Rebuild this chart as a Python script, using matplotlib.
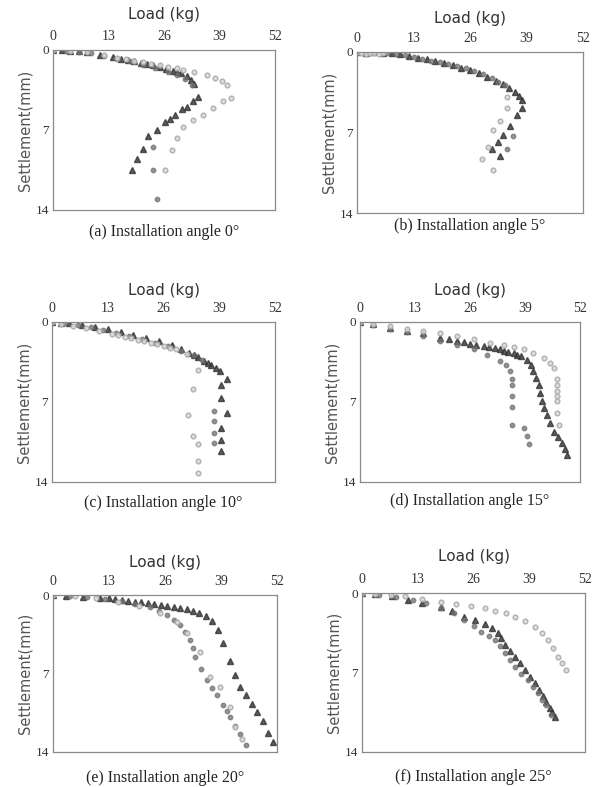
import matplotlib
matplotlib.use("Agg")
import matplotlib.pyplot as plt

W, H = 605, 787

### panel (a) 0 deg
load_a1 = [0, 2, 4, 6, 8, 11, 14, 16, 17.5, 19, 20.5, 22, 23.5, 25, 26.5, 28, 29, 30, 31.3, 32.3, 33, 34, 32.9, 31.3, 30.1, 28.6, 27.4, 26.2, 24.3, 22.3, 21, 19.7, 18.4]
set_a1 = [0, 0.02, 0.05, 0.1, 0.2, 0.4, 0.6, 0.8, 0.9, 1.0, 1.1, 1.2, 1.35, 1.5, 1.65, 1.8, 1.95, 2.05, 2.3, 2.6, 3.0, 4.1, 4.5, 5.0, 5.2, 5.7, 6.0, 6.3, 7.0, 7.5, 8.7, 9.5, 10.5]
load_a2 = [0, 3, 6, 9, 12, 15, 18, 21, 24, 27, 29, 31, 32.5, 23.5, 23.5, 24.3]
set_a2 = [0, 0.05, 0.15, 0.3, 0.5, 0.75, 1.0, 1.3, 1.55, 1.9, 2.2, 2.5, 3.1, 8.5, 10.5, 13.0]
load_a3 = [0, 4, 8, 12, 15, 17, 19, 21, 23, 25, 27, 29, 30.5, 33, 36, 38, 39.5, 40.7, 41.8, 39.9, 37.5, 35.2, 32.9, 30.5, 29, 27.8, 26.2]
set_a3 = [0, 0.05, 0.2, 0.45, 0.7, 0.82, 0.95, 1.08, 1.2, 1.32, 1.45, 1.6, 1.75, 1.95, 2.2, 2.45, 2.7, 3.1, 4.2, 4.5, 5.1, 5.7, 6.1, 6.7, 7.7, 8.75, 10.5]

### panel (b) 5 deg
load_b1 = [0, 2, 4, 6, 8, 10, 12, 14, 16, 18, 20, 22, 24, 26, 28, 30, 32, 33.5, 35, 36.3, 37.3, 37.9, 37.9, 36.7, 35.2, 33.6, 32.5, 31, 32.9]
set_b1 = [0, 0.05, 0.0, 0.05, 0.1, 0.2, 0.35, 0.5, 0.65, 0.8, 0.95, 1.15, 1.35, 1.6, 1.85, 2.15, 2.5, 2.8, 3.15, 3.5, 3.85, 4.2, 4.9, 5.5, 6.4, 7.2, 7.8, 8.4, 9.0]
load_b2 = [0, 3, 7, 9, 11, 13, 15, 17, 19, 21, 23, 25, 27, 29, 31, 32.5, 34, 35.9, 34.4]
set_b2 = [0, 0.05, 0.1, 0.2, 0.3, 0.45, 0.6, 0.75, 0.9, 1.05, 1.2, 1.4, 1.65, 1.95, 2.3, 2.6, 2.9, 7.3, 8.4]
load_b3 = [0, 1, 2, 3, 4, 5, 6, 34.4, 34.4, 32.9, 31.3, 30.2, 28.7, 31.3]
set_b3 = [0, 0.1, 0.2, 0.1, 0.05, 0.15, 0.1, 3.9, 4.9, 6.0, 6.8, 8.3, 9.3, 10.3]

### panel (c) 10 deg
load_c1 = [0, 2, 4, 7, 10, 13, 16, 19, 22, 25, 28, 30, 32, 33, 34, 35.5, 36.3, 37, 38.2, 39.2, 40.7, 39.5, 39.5, 40.7, 39.5, 39.5, 39.5]
set_c1 = [0, 0.05, 0.12, 0.25, 0.45, 0.65, 0.85, 1.1, 1.4, 1.7, 2.05, 2.35, 2.7, 2.9, 3.1, 3.4, 3.6, 3.8, 4.0, 4.3, 5.0, 5.5, 6.65, 8.0, 9.3, 10.3, 11.3]
load_c2 = [0, 3, 6, 9, 12, 15, 18, 21, 24, 27, 30, 33, 35, 37.8, 37.8, 37.8, 37.8]
set_c2 = [0, 0.1, 0.25, 0.45, 0.7, 0.95, 1.2, 1.5, 1.8, 2.1, 2.5, 2.9, 3.3, 7.8, 8.7, 9.7, 10.6]
load_c3 = [0, 2, 5, 8, 11, 14, 15.5, 17, 18.5, 20, 21.5, 23, 24.5, 26, 27.5, 29, 31.5, 34.1, 32.9, 31.7, 32.9, 34.1, 34.1, 34.1]
set_c3 = [0, 0.15, 0.35, 0.55, 0.8, 1.05, 1.17, 1.3, 1.42, 1.55, 1.68, 1.8, 1.95, 2.1, 2.25, 2.4, 2.8, 4.2, 5.9, 8.1, 9.95, 10.7, 12.2, 13.2]

### panel (d) 15 deg
load_d1 = [0, 3, 7, 11, 15, 19, 21, 23, 24.5, 26, 27.5, 29.2, 30.5, 32, 33, 34, 35, 36.3, 37.2, 38, 39.5, 40.5, 41, 41.6, 42.2, 42.6, 43, 43.6, 44.2, 45, 45.8, 46.8, 47.8, 48.4, 49]
set_d1 = [0, 0.2, 0.5, 0.75, 1.0, 1.4, 1.52, 1.65, 1.78, 1.9, 2.0, 2.1, 2.2, 2.3, 2.4, 2.5, 2.6, 2.7, 2.85, 3.0, 3.3, 3.8, 4.3, 4.9, 5.5, 6.2, 6.9, 7.5, 8.1, 8.8, 9.6, 10.1, 10.6, 11.1, 11.6]
load_d2 = [0, 3, 7, 11, 15, 19, 23, 26.9, 30, 33.2, 34.5, 35.5, 35.9, 35.9, 35.9, 35.9, 35.9, 38.7, 39.5, 39.9]
set_d2 = [0, 0.25, 0.6, 0.9, 1.2, 1.7, 2.05, 2.4, 2.9, 3.4, 3.8, 4.3, 5.0, 5.5, 6.5, 7.4, 9.0, 9.3, 10.0, 10.7]
load_d3 = [0, 3, 7, 11, 15, 19, 23, 27, 30.8, 34, 36.5, 38.7, 41, 43.4, 45, 45.8, 46.6, 46.6, 46.6, 46.6, 46.6, 46.6, 47]
set_d3 = [0, 0.15, 0.38, 0.6, 0.8, 0.96, 1.2, 1.5, 1.84, 2.05, 2.2, 2.4, 2.75, 3.15, 3.6, 4.0, 5.0, 5.5, 6.0, 6.5, 6.9, 8.0, 9.0]

### panel (e) 20 deg
load_e1 = [0, 3, 7, 11, 13, 14.5, 16, 17.5, 19, 20.5, 22, 23.5, 25, 26.5, 28, 29.5, 31, 32.5, 34, 35.5, 37, 38.4, 39.5, 41.1, 42.2, 43.4, 44.9, 46.1, 47.3, 48.8, 50, 51]
set_e1 = [0, 0.05, 0.15, 0.25, 0.3, 0.35, 0.42, 0.5, 0.58, 0.65, 0.72, 0.8, 0.88, 0.95, 1.05, 1.15, 1.25, 1.4, 1.6, 1.85, 2.3, 3.1, 4.3, 5.9, 7.1, 8.2, 8.9, 9.7, 10.4, 11.2, 12.3, 13.1]
load_e2 = [0, 4, 8, 12, 16, 19, 22.5, 24.5, 26.4, 28, 29.5, 30.7, 31.8, 32.4, 32.9, 34.3, 35.7, 36.9, 38, 39.5, 40.3, 41.1, 42.2, 43.4, 44.8]
set_e2 = [0, 0.1, 0.2, 0.35, 0.55, 0.8, 1.1, 1.45, 1.8, 2.2, 2.7, 3.3, 4.0, 4.7, 5.5, 6.6, 7.6, 8.3, 8.9, 9.8, 10.3, 10.9, 11.7, 12.4, 13.4]
load_e3 = [0, 5, 10, 15, 20, 24.8, 28.7, 31, 34.1, 36.4, 38.7, 41.1, 42.2, 43.8]
set_e3 = [0, 0.1, 0.3, 0.6, 1.0, 1.6, 2.4, 3.4, 5.1, 7.3, 8.2, 10.0, 11.8, 12.8]

### panel (f) 25 deg
load_f1 = [0, 3, 7, 10.7, 14, 18.5, 21, 23.9, 26.4, 28.6, 30.3, 31.7, 32.5, 33.3, 34.5, 35.6, 36.8, 37.9, 39.1, 40.3, 41.2, 42.2, 43, 43.8, 44.4, 44.9]
set_f1 = [0, 0.1, 0.3, 0.6, 0.85, 1.2, 1.6, 2.1, 2.4, 2.7, 3.1, 3.5, 4.0, 4.6, 5.1, 5.6, 6.2, 6.8, 7.4, 7.95, 8.5, 9.1, 9.6, 10.1, 10.5, 10.9]
load_f2 = [0, 4, 8, 12, 15, 18.5, 21.5, 23.9, 26, 27.8, 29.5, 31, 32.2, 33.3, 34.5, 35.6, 37.1, 38.7, 39.8, 41, 42, 43, 44.1]
set_f2 = [0, 0.15, 0.35, 0.6, 0.9, 1.3, 1.8, 2.4, 2.9, 3.4, 3.75, 4.1, 4.7, 5.3, 5.9, 6.5, 7.1, 7.7, 8.3, 8.8, 9.4, 9.9, 10.7]
load_f3 = [0, 3, 6.8, 10, 14, 18.5, 22, 25.5, 28.6, 31, 33.5, 35.6, 38, 40.3, 42, 43.4, 44.6, 45.7, 46.7, 47.6]
set_f3 = [0, 0.08, 0.18, 0.3, 0.5, 0.76, 0.95, 1.15, 1.35, 1.55, 1.8, 2.1, 2.5, 3.0, 3.5, 4.1, 4.8, 5.6, 6.2, 6.8]

captions = ["(a) Installation angle 0°", "(b) Installation angle 5°",
            "(c) Installation angle 10°", "(d) Installation angle 15°",
            "(e) Installation angle 20°", "(f) Installation angle 25°"]
x_ticks = [0, 13, 26, 39, 52]
y_ticks = [0, 7, 14]

panels = [
    ((load_a1, set_a1), (load_a2, set_a2), (load_a3, set_a3)),
    ((load_b1, set_b1), (load_b2, set_b2), (load_b3, set_b3)),
    ((load_c1, set_c1), (load_c2, set_c2), (load_c3, set_c3)),
    ((load_d1, set_d1), (load_d2, set_d2), (load_d3, set_d3)),
    ((load_e1, set_e1), (load_e2, set_e2), (load_e3, set_e3)),
    ((load_f1, set_f1), (load_f2, set_f2), (load_f3, set_f3)),
]

# axes boxes in pixels: left, top, right, bottom ; caption y ; title y
boxes = [
    (53, 50, 275, 210, 232, 15),
    (357, 52, 583, 213, 226, 18),
    (52, 322, 275, 482, 503, 290),
    (360, 322, 580, 482, 501, 290),
    (53, 595, 277, 752, 778, 562),
    (362, 593, 585, 752, 777, 557),
]

styles = [
    dict(marker="^", color="#333333", ms=3.8, alpha=0.8),
    dict(marker="o", color="#707070", ms=3.2, alpha=0.75),
    dict(marker="o", markerfacecolor="#dadada", markeredgecolor="#ababab", ms=3.4, alpha=0.9),
]

serif = "Liberation Serif"
sans = "DejaVu Sans"

fig = plt.figure(figsize=(W / 100, H / 100), dpi=100)

for (series, box, cap) in zip(panels, boxes, captions):
    l, t, r, b, cy, ty = box
    ax = fig.add_axes([l / W, 1 - b / H, (r - l) / W, (b - t) / H])
    for (x, y), st in zip(series, styles):
        ax.plot(x, y, linestyle="none", **st)
    ax.set_xlim(0, 52)
    ax.set_ylim(14, 0)
    ax.xaxis.tick_top()
    ax.set_xticks(x_ticks)
    ax.set_yticks(y_ticks)
    ax.set_xticklabels([str(v) for v in x_ticks], family=serif, fontsize=10, color="#333333")
    ax.set_yticklabels([str(v) for v in y_ticks], family=serif, fontsize=9.5, color="#333333")
    ax.tick_params(axis="x", length=0, pad=5)
    ax.tick_params(axis="y", length=0, pad=3)
    for s in ax.spines.values():
        s.set_color("#8a8a8a")
        s.set_linewidth(0.9)
    ax.set_ylabel("Settlement(mm)", family=sans, fontsize=10.5, color="#555555", labelpad=2)
    fig.text((l + r) / 2 / W, 1 - ty / H, "Load (kg)", ha="center", va="center",
             family=sans, fontsize=11, color="#333333")
    fig.text((l + r) / 2 / W, 1 - cy / H, cap, ha="center", va="center",
             family=serif, fontsize=11.5, color="#222222")

fig.savefig("out.png", dpi=100)
